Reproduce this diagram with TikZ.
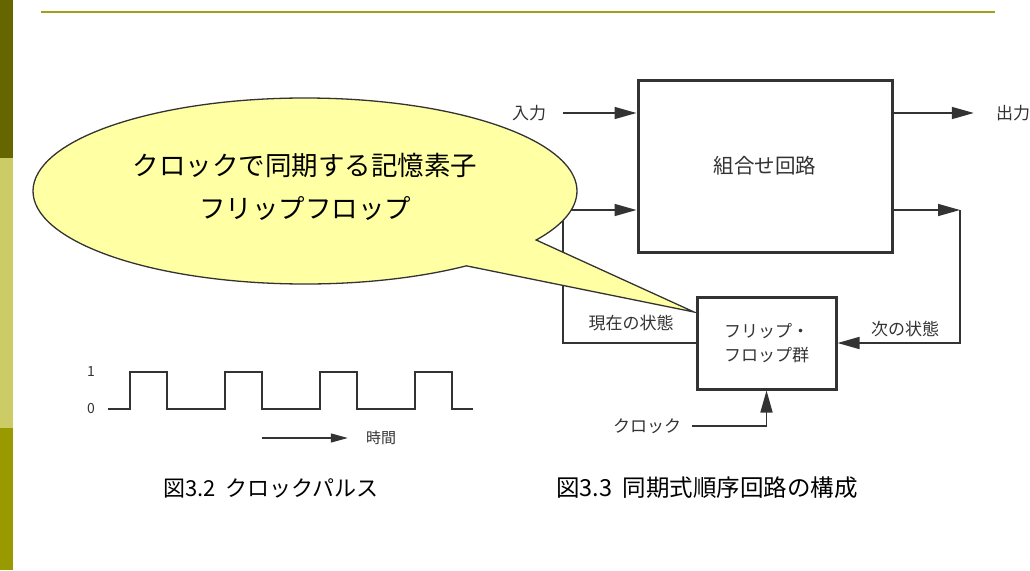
\documentclass[tikz,border=0pt]{standalone}
\usepackage{fontspec}
\setmainfont{Noto Sans CJK JP}
\usetikzlibrary{arrows.meta}
\definecolor{barDk}{HTML}{666600}
\definecolor{barLt}{HTML}{CCCC66}
\definecolor{barMd}{HTML}{999900}
\definecolor{rule}{HTML}{A0A01E}
\definecolor{balloon}{HTML}{FFFFA3}
\definecolor{wire}{HTML}{333333}
\tikzset{fig/.style={x=1pt,y=-1pt,line join=miter,>={Triangle[length=22pt,width=12pt]}},
  blk/.style={draw=wire,line width=3pt,inner sep=0pt},
  wr/.style={draw=wire,line width=1.6pt},
  lbl/.style={font=\fontsize{17}{24}\selectfont,text=wire,inner sep=0pt},
  captxt/.style={font=\fontsize{22}{26}\selectfont,inner sep=0pt,anchor=west}}

\begin{document}
\begin{tikzpicture}[fig]
  \useasboundingbox (0,0) rectangle (1030,570);
  % side bar and top rule
  \fill[barDk](0,0)rectangle(13,158);\fill[barLt](0,158)rectangle(13,428);\fill[barMd](0,428)rectangle(13,570);
  \draw[rule,line width=2.5pt](41,12)--(995,12);
  % sequential circuit
  \node[blk,minimum width=254pt,minimum height=172pt,font=\fontsize{20.5}{24}\selectfont,text=wire] (comb) at (765,166) {組合せ回路};
  \node[blk,lbl,minimum width=139pt,minimum height=92pt,align=center] (ff) at (766.5,343) {フリップ・\\フロップ群};
  \node[lbl] (in) at (529,113) {入力};
  \node[lbl] (out) at (1013,113) {出力};
  \node[lbl] (clk) at (647,426) {クロック};
  \node[lbl] (cur) at (631,323) {現在の状態};
  \node[lbl] (nxt) at (905,329) {次の状態};
  \coordinate (psTop) at (563,210);\coordinate (nsTop) at (960,210);
  \draw[wr,->]([xshift=17pt]in.east)--(comb.west|-in);
  \draw[wr,->](comb.east|-out)--([xshift=-22pt]out.west);
  \draw[wr,->](ff.west)-|(psTop)--(psTop-|comb.west);
  \draw[wr,->](nsTop-|comb.east)--(nsTop);
  \draw[wr,->](nsTop)|-(ff.east);
  \draw[wr,->]([xshift=11pt]clk.east)-|(ff.south);
  % balloon
  \coordinate (tip) at (694,312);
  \draw[wire,line width=1.3pt,fill=balloon](305,191)++(53.6:272 and 93)
    arc[start angle=53.6,end angle=391.8,x radius=272,y radius=93]--(tip)--cycle;
  \node[font=\fontsize{26.5}{43}\selectfont,align=center,inner sep=0pt] (note) at (305,187) {クロックで同期する記憶素子\\フリップフロップ};
  % clock pulse
  \draw[wire,line width=2pt](108,409)\foreach \s in {130,225,320,415}{--(\s,409)--(\s,372)--(\s+37,372)--(\s+37,409)}--(473,409);
  \node[lbl,font=\fontsize{14}{16}\selectfont] (one) at (91,372) {1};
  \node[lbl,font=\fontsize{14}{16}\selectfont] (zero) at (91,409) {0};
  \node[lbl,font=\fontsize{15}{18}\selectfont] (tm) at (381,438) {時間};
  \coordinate (t0) at (262,438);
  \draw[wire,line width=1.2pt,-{Triangle[length=17pt,width=9pt]}](t0)--([xshift=-18pt]tm.west);
  % captions
  \node[captxt] (cap1) at (163,488) {図3.2\ \ クロックパルス};
  \node[captxt,font=\fontsize{23.5}{26}\selectfont] (cap2) at (556,488) {図3.3\ \ 同期式順序回路の構成};
\end{tikzpicture}
\end{document}
